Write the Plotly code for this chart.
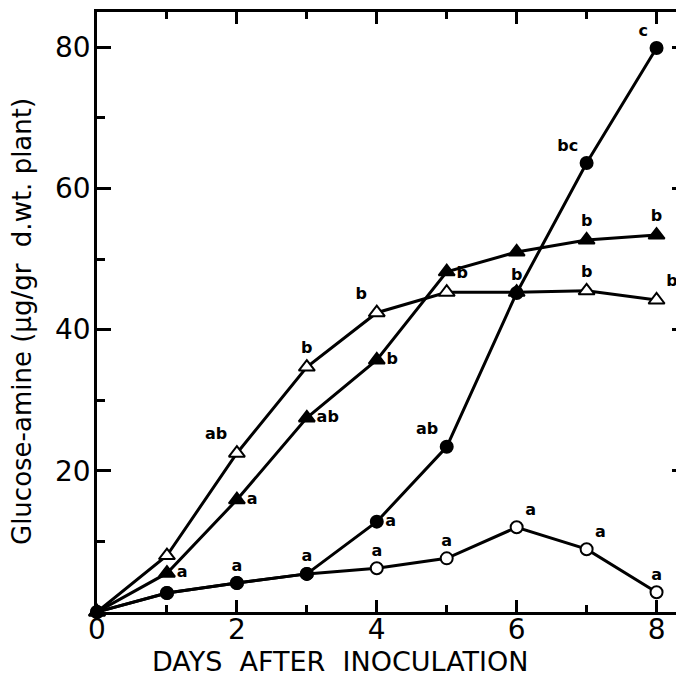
import plotly.graph_objects as go

# ---- data ----
days = [0, 1, 2, 3, 4, 5, 6, 7, 8]
open_tri = [0, 8.0, 22.5, 34.7, 42.4, 45.3, 45.3, 45.5, 44.2]
filled_tri = [0, 5.5, 15.9, 27.5, 35.7, 48.2, 51.0, 52.7, 53.4]
filled_circ = [0, 2.7, 4.1, 5.4, 12.8, 23.4, 45.2, 63.6, 79.9]
open_circ = [0, 2.7, 4.1, 5.4, 6.2, 7.6, 12.0, 8.9, 2.8]

open_tri_labels = ["", "", "ab", "b", "b", "b", "", "b", "b"]
filled_tri_labels = ["", "a", "a", "ab", "b", "", "", "b", "b"]
filled_circ_labels = ["", "", "", "", "a", "ab", "b", "bc", "c"]
open_circ_labels = ["", "", "a", "a", "a", "a", "a", "a", "a"]

x_ticks = [0, 2, 4, 6, 8]
y_ticks = [20, 40, 60, 80]
x_title = "DAYS  AFTER  INOCULATION"
y_title = "Glucose-amine (\u00b5g/gr  d.wt. plant)"

# ---- label placement (style) ----
pos_open_tri = ["top center", "top center", "top left", "top center", "top left",
                "top right", "top center", "top center", "top right"]
pos_filled_tri = ["top center", "middle right", "middle right", "middle right", "middle right",
                  "top center", "top center", "top center", "top center"]
pos_filled_circ = ["top center", "top center", "top center", "top center", "middle right",
                   "top left", "top center", "top left", "top left"]
pos_open_circ = ["top center", "top center", "top center", "top center", "top center",
                 "top center", "top right", "top right", "top center"]

FONT = "DejaVu Sans"
lbl_font = dict(family=FONT, size=16, color="black", weight="bold")

fig = go.Figure()

def add(y, labels, pos, symbol, fill, size):
    fig.add_trace(go.Scatter(
        x=days, y=y, mode="lines+markers+text",
        text=labels, textposition=pos, textfont=lbl_font,
        line=dict(color="black", width=3),
        marker=dict(symbol=symbol, size=size, color=fill,
                    line=dict(color="black", width=2)),
        cliponaxis=False, showlegend=False,
    ))

add(open_circ, open_circ_labels, pos_open_circ, "circle", "white", 12)
add(filled_tri, filled_tri_labels, pos_filled_tri, "triangle-up", "black", 14)
add(open_tri, open_tri_labels, pos_open_tri, "triangle-up", "white", 14)
add(filled_circ, filled_circ_labels, pos_filled_circ, "circle", "black", 12)

# window geometry (page body has an 8px margin); the right frame sits just past the window edge
BODY = 8
WIN_H = 678
left, right, top, bottom = 97, 689, 12, 612
W, H = right - BODY, WIN_H - BODY
px_per_x = 70.3
x_max = (right - left) / px_per_x
y_max = 85.0

fig.update_layout(
    width=W, height=H,
    margin=dict(l=left - BODY, r=0, t=top - BODY, b=H - (bottom - BODY), pad=0),
    plot_bgcolor="white", paper_bgcolor="white",
    font=dict(family=FONT, color="black"),
    xaxis=dict(
        range=[0, x_max], tickvals=x_ticks, ticks="inside", ticklen=12, tickwidth=2.5,
        tickcolor="black", showline=True, linecolor="black", linewidth=2.5,
        mirror="ticks", showgrid=False, zeroline=False,
        tickfont=dict(family=FONT, size=28, color="black"),
        ticklabelstandoff=-9,
        minor=dict(dtick=1, tick0=0, ticks="inside", ticklen=7, tickwidth=2.5, tickcolor="black"),
    ),
    yaxis=dict(
        range=[0, y_max], tickvals=y_ticks, ticks="inside", ticklen=14, tickwidth=2.5,
        tickcolor="black", showline=True, linecolor="black", linewidth=2.5,
        mirror="ticks", showgrid=False, zeroline=False,
        tickfont=dict(family=FONT, size=28, color="black"),
        ticklabelstandoff=-2,
        minor=dict(dtick=10, tick0=0, ticks="inside", ticklen=8, tickwidth=2.5, tickcolor="black"),
    ),
    annotations=[
        dict(text=x_title, xref="paper", yref="paper",
             x=(341 - left) / (right - left), y=0, yshift=-49,
             xanchor="center", yanchor="middle", showarrow=False,
             font=dict(family=FONT, size=27, color="black")),
        dict(text=y_title, xref="paper", yref="paper",
             x=0, xshift=-(left - 22), y=(bottom - 322) / (bottom - top),
             xanchor="center", yanchor="middle", textangle=-90, showarrow=False,
             font=dict(family=FONT, size=26, color="black")),
    ],
)

fig.write_html("out.html")
